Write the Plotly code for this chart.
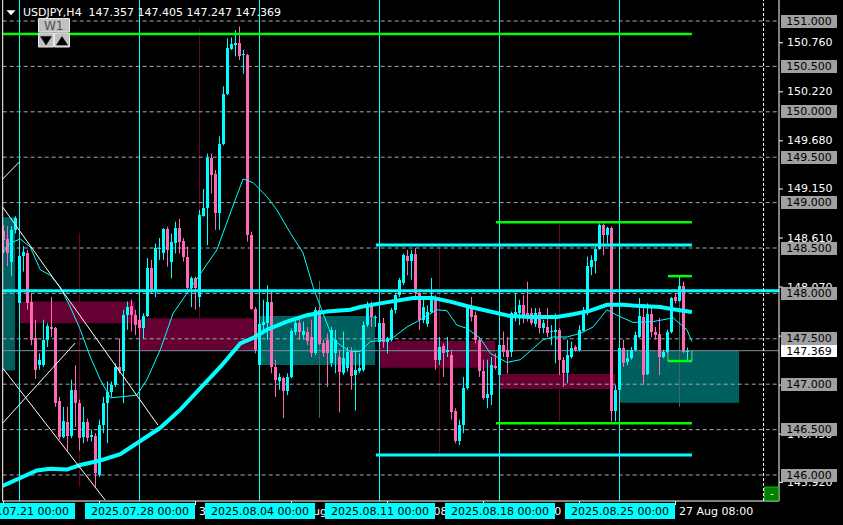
import plotly.graph_objects as go

W, H = 843, 525

# ---------------- data ----------------
bar_index = list(range(172))
open_ = [148.69, 148.60, 148.35, 148.70, 147.89, 148.41, 148.45, 147.91, 147.51, 147.21,
         147.21, 147.49, 147.63, 147.62, 146.81, 146.42, 146.58, 146.43, 146.94, 146.79,
         146.42, 146.58, 146.42, 146.43, 146.00, 146.55, 146.79, 146.91, 146.99, 147.19,
         147.14, 147.76, 147.86, 147.76, 147.71, 147.615, 147.75, 148.28, 148.04, 148.485,
         148.44, 148.705, 148.35, 148.56, 148.72, 148.58, 148.40, 148.06, 148.17, 147.96,
         148.85, 148.945, 149.49, 149.315, 148.89, 149.645, 150.20, 150.69, 150.735, 150.76,
         150.625, 150.625, 148.64, 147.825, 147.21, 147.65, 147.67, 147.90, 147.19, 147.03,
         147.065, 146.92, 147.08, 147.58, 147.67, 147.54, 147.58, 147.52, 147.34, 147.82,
         147.45, 147.49, 147.23, 147.34, 147.30, 147.12, 147.175, 147.36, 147.10, 147.14,
         147.16, 147.65, 147.87, 147.73, 147.47, 147.67, 147.47, 147.49, 147.82, 147.98,
         148.11, 148.41, 148.36, 148.43, 148.00, 147.71, 147.66, 147.80, 147.95, 147.27,
         147.42, 147.35, 147.32, 146.70, 146.38, 146.55, 146.955, 147.85, 147.76, 147.49,
         147.14, 146.85, 146.88, 147.205, 147.10, 147.43, 147.38, 147.35, 147.74, 147.78,
         147.87, 147.78, 147.78, 147.66, 147.80, 147.62, 147.63, 147.57, 147.58, 147.60,
         147.27, 147.12, 147.30, 147.41, 147.38, 147.59, 147.78, 148.295, 148.36, 148.49,
         148.75, 148.64, 148.72, 146.70, 146.94, 147.395, 147.24, 147.285, 147.38, 147.52,
         147.74, 147.11, 147.77, 147.58, 147.55, 147.30, 147.36, 147.58, 147.96, 147.92,
         148.08, 147.357]
high_ = [148.75, 148.74, 148.74, 148.85, 148.44, 148.52, 148.48, 148.00, 147.71, 147.34,
         147.71, 147.67, 147.96, 147.63, 146.86, 146.75, 146.75, 147.05, 147.21, 146.83,
         146.75, 146.62, 146.50, 146.46, 146.61, 146.86, 147.03, 147.03, 147.23, 147.505,
         147.82, 147.91, 147.93, 147.82, 147.74, 147.78, 148.39, 148.37, 148.55, 148.61,
         148.72, 148.735, 148.66, 148.79, 148.82, 148.61, 148.515, 148.185, 148.185, 148.92,
         149.15, 149.54, 149.54, 149.36, 149.73, 150.28, 150.81, 150.82, 150.90, 150.94,
         150.68, 150.64, 148.68, 147.85, 147.78, 147.93, 148.09, 148.02, 147.27, 147.12,
         147.08, 147.12, 147.615, 147.725, 147.725, 147.69, 147.63, 147.71, 147.85, 147.85,
         147.49, 147.56, 147.63, 147.60, 147.38, 147.58, 147.41, 147.41, 147.38, 147.34,
         147.69, 147.91, 147.91, 147.76, 147.69, 147.73, 147.52, 147.84, 148.00, 148.17,
         148.44, 148.48, 148.48, 148.50, 148.04, 147.93, 147.87, 148.17, 147.98, 147.52,
         147.45, 147.52, 147.38, 146.735, 146.61, 147.08, 147.87, 147.96, 147.80, 147.52,
         147.27, 147.27, 147.30, 147.34, 147.45, 147.58, 147.52, 147.80, 148.00, 147.93,
         147.98, 148.13, 147.84, 147.84, 147.84, 147.71, 147.84, 147.65, 147.78, 147.62,
         147.30, 147.49, 147.47, 147.43, 147.65, 147.85, 148.405, 148.42, 148.515, 148.77,
         148.77, 148.735, 148.735, 146.99, 147.41, 147.49, 147.38, 147.41, 147.58, 147.95,
         147.84, 147.89, 147.85, 147.63, 147.73, 147.38, 147.60, 147.96, 148.00, 148.19,
         148.13, 147.405]
low_ = [148.44, 148.30, 148.19, 148.66, 147.82, 148.24, 147.82, 147.43, 147.06, 147.16,
        147.19, 147.41, 147.52, 146.75, 146.39, 146.405, 146.27, 146.405, 146.53, 146.27,
        146.35, 146.37, 146.37, 145.87, 145.98, 146.46, 146.35, 146.86, 146.97, 147.12,
        146.79, 147.60, 147.58, 147.54, 147.505, 147.505, 147.74, 148.00, 147.96, 148.37,
        148.37, 148.295, 148.165, 148.44, 148.44, 148.35, 148.04, 147.85, 147.82, 147.85,
        148.845, 148.53, 149.10, 148.70, 148.70, 149.63, 150.185, 150.68, 150.61, 150.57,
        150.42, 148.57, 147.82, 147.34, 147.19, 147.56, 147.49, 147.12, 146.86, 146.94,
        146.625, 146.88, 147.065, 147.54, 147.49, 147.49, 147.43, 147.30, 147.32, 147.43,
        147.30, 146.97, 147.19, 147.12, 146.69, 147.10, 147.14, 146.94, 146.71, 147.12,
        147.14, 147.63, 147.63, 147.63, 147.45, 147.40, 147.34, 147.47, 147.78, 147.96,
        148.09, 148.20, 148.15, 147.93, 147.60, 147.67, 147.63, 147.78, 147.16, 147.21,
        147.08, 147.30, 146.61, 146.35, 146.33, 146.46, 146.94, 147.69, 147.45, 147.08,
        146.83, 146.735, 146.77, 147.16, 147.08, 147.30, 147.12, 147.30, 147.69, 147.65,
        147.67, 147.69, 147.65, 147.63, 147.56, 147.56, 147.52, 147.43, 147.23, 147.10,
        146.97, 147.01, 147.285, 147.36, 147.36, 147.58, 147.76, 148.20, 148.22, 148.48,
        148.42, 148.55, 146.59, 146.59, 146.93, 147.19, 147.21, 147.27, 147.36, 147.51,
        146.99, 147.10, 147.52, 147.49, 147.10, 147.285, 147.34, 147.56, 147.89, 147.91,
        147.34, 147.247]
close_ = [148.59, 148.44, 148.70, 148.83, 148.41, 148.46, 147.89, 147.49, 147.16, 147.27,
          147.49, 147.64, 147.605, 146.79, 146.42, 146.59, 146.43, 146.94, 146.79, 146.41,
          146.58, 146.405, 146.44, 146.02, 146.55, 146.79, 146.91, 146.99, 147.19, 147.14,
          147.76, 147.85, 147.76, 147.65, 147.615, 147.75, 148.28, 148.04, 148.50, 148.50,
          148.705, 148.48, 148.57, 148.72, 148.57, 148.405, 148.06, 148.17, 148.06, 148.86,
          148.945, 149.49, 149.30, 148.89, 149.645, 150.20, 150.70, 150.75, 150.76, 150.615,
          150.64, 148.64, 147.825, 147.38, 147.66, 147.69, 147.91, 147.19, 147.05, 147.08,
          146.92, 147.08, 147.59, 147.67, 147.58, 147.59, 147.48, 147.34, 147.82, 147.44,
          147.34, 147.34, 147.60, 147.49, 147.13, 147.285, 147.36, 147.09, 147.16, 147.175,
          147.65, 147.87, 147.74, 147.74, 147.67, 147.47, 147.51, 147.82, 147.98, 148.15,
          148.42, 148.36, 148.43, 148.00, 147.71, 147.85, 147.80, 147.95, 147.27, 147.41,
          147.34, 147.38, 146.69, 146.38, 146.55, 146.955, 147.85, 147.74, 147.49, 147.14,
          146.85, 146.89, 147.21, 147.175, 147.43, 147.36, 147.30, 147.78, 147.79, 147.87,
          147.76, 147.76, 147.67, 147.78, 147.62, 147.67, 147.56, 147.59, 147.60, 147.27,
          147.12, 147.32, 147.40, 147.38, 147.60, 147.79, 148.30, 148.37, 148.49, 148.75,
          148.64, 148.72, 146.70, 146.94, 147.395, 147.23, 147.285, 147.38, 147.54, 147.75,
          147.10, 147.77, 147.57, 147.54, 147.30, 147.35, 147.58, 147.95, 147.92, 148.08,
          147.36, 147.369]

# slow (thick) moving average, read points
ma_slow_bar = [-0.2, 4.2, 8.35, 11.7, 15.85, 19.2, 24.2, 29.2, 34.2, 39.2, 44.2, 49.2, 54.2,
               59.2, 62.4, 65.85, 70.85, 75.85, 80.85, 86.7, 89.2, 94.2, 99.2, 102.4, 107.4,
               111.7, 116.7, 121.7, 126.7, 131.7, 138.35, 142.4, 146.7, 150.85, 154.9, 159.2,
               164.2, 167.4, 172.1]
ma_slow_val = [145.88, 145.97, 146.05, 146.07, 146.06, 146.11, 146.16, 146.23, 146.37, 146.52,
               146.72, 146.96, 147.19, 147.45, 147.51, 147.60, 147.69, 147.76, 147.80, 147.82,
               147.85, 147.89, 147.93, 147.95, 147.95, 147.91, 147.85, 147.80, 147.75, 147.74,
               147.74, 147.77, 147.81, 147.875, 147.875, 147.86, 147.85, 147.825, 147.795]
# fast (thin) moving average, read points
ma_fast_bar = [-0.2, 1.7, 4.2, 6.7, 9.2, 11.7, 14.2, 16.7, 19.2, 21.7, 24.2, 26.7, 29.2, 33.35,
               35.85, 39.2, 42.4, 45.85, 49.2, 53.35, 56.7, 59.9, 62.4, 65.85, 68.35, 71.7,
               74.9, 77.4, 79.9, 82.4, 84.9, 86.7, 89.2, 91.7, 96.7, 100.85, 104.2, 108.35,
               110.85, 113.35, 115.85, 119.2, 121.7, 125.85, 129.2, 132.4, 134.9, 137.4,
               140.85, 144.2, 147.4, 150.85, 153.35, 157.4, 162.4, 167.4, 170.85, 172.1]
ma_fast_val = [148.445, 148.555, 148.60, 148.51, 148.26, 148.20, 148.07, 147.85, 147.60, 147.30,
               147.05, 146.85, 146.86, 146.88, 147.05, 147.38, 147.78, 148.00, 148.225, 148.48,
               148.885, 149.26, 149.22, 149.065, 148.92, 148.665, 148.445, 148.07, 147.78,
               147.49, 147.41, 147.36, 147.36, 147.47, 147.49, 147.63, 147.71, 147.82, 147.81,
               147.65, 147.615, 147.505, 147.34, 147.24, 147.27, 147.395, 147.49, 147.52,
               147.52, 147.56, 147.63, 147.82, 147.76, 147.68, 147.69, 147.73, 147.60, 147.47]

# weekly separators and labels
week_start_bar = [4, 34, 64, 94, 124, 154]
week_label = ["2025.07.21 00:00", "2025.07.28 00:00", "2025.08.04 00:00",
              "2025.08.11 00:00", "2025.08.18 00:00", "2025.08.25 00:00"]
time_tick_bar = [0, 24, 48, 72, 96, 120, 144, 168]
time_tick_label = ["18 Jul 08:00", "24 Jul 08:00", "30 Jul 08:00", "5 Aug 08:00",
                   "11 Aug 08:00", "15 Aug 08:00", "21 Aug 08:00", "27 Aug 08:00"]

# weekly high-low range markers (mid week)
range_bar = [19, 49, 79, 109, 139, 169]
range_high = [148.665, 150.92, 148.14, 148.51, 148.775, 148.18]
range_low = [145.87, 147.50, 146.63, 146.24, 146.59, 146.75]
range_bull = [False, False, True, False, False, True]

# zones (rectangles)
zone_from = [-0.2, 3.95, 33.95, 63.95, 93.95, 123.95, 153.95]
zone_to = [2.9, 32.9, 62.4, 92.9, 122.9, 152.9, 183.9]
zone_top = [148.84, 147.91, 147.726, 147.751, 147.475, 147.112, 147.369]
zone_bottom = [147.15, 147.67, 147.377, 147.211, 147.18, 146.947, 146.796]
zone_bull = [True, False, False, True, False, False, True]

# horizontal levels
level_price = [150.856, 148.03, 148.533, 146.22, 148.783, 146.569, 148.19, 147.255]
level_from = [-0.2, -0.2, 93.1, 93.1, 123.1, 123.1, 166.1, 166.1]
level_to = [172.1, 194.0, 172.1, 172.1, 172.1, 172.1, 172.1, 172.1]
level_kind = ["green", "cyan", "cyan", "cyan", "green", "green", "green", "green"]

# white trend lines (bar, price) pairs
trend_x0 = [-0.2, -0.2, -0.2, -0.2]
trend_y0 = [149.26, 148.951, 147.178, 146.572]
trend_x1 = [3.95, 38.6, 25.4, 17.9]
trend_y1 = [149.447, 146.55, 145.725, 147.453]

grid_levels = [151.0, 150.5, 150.0, 149.5, 149.0, 148.5, 148.0, 147.5, 147.0, 146.5, 146.0]
native_price_labels = [150.760, 150.220, 149.680, 149.150, 148.610, 148.070, 147.530,
                       146.990, 146.450, 145.920]
current_price = 147.369
header = "USDJPY,H4\u00a0\u00a0147.357 147.405 147.247 147.369"

# ---------------- layout geometry ----------------
X_LEFT_PX, X_RIGHT_PX = 2.7, 779.0
Y_BOTTOM_PX = 501.0
X_MIN = -0.2
X_MAX = X_MIN + (X_RIGHT_PX - X_LEFT_PX) / 4.0
Y_MIN, Y_MAX = 145.7137, 151.2313

CYAN = "#00ffff"
PINK = "#ff69b4"
GREEN = "#00ff00"
TEAL_ZONE = "#005f5f"
MAROON_ZONE = "#660033"
FONT = "DejaVu Sans"


def pxp(x):  # pixel -> paper x
    return x / W


def pyp(y):  # pixel -> paper y
    return 1 - y / H


def paper_y_of_price(p):
    d0 = 1 - Y_BOTTOM_PX / H
    return d0 + (p - Y_MIN) / (Y_MAX - Y_MIN) * (1 - d0)


def paper_x_of_bar(k):
    d0, d1 = X_LEFT_PX / W, X_RIGHT_PX / W
    return d0 + (k - X_MIN) / (X_MAX - X_MIN) * (d1 - d0)


fig = go.Figure()

# ---------------- candles ----------------
min_body = (Y_MAX - Y_MIN) / Y_BOTTOM_PX
bull = [c >= o for o, c in zip(open_, close_)]
base = [min(o, c) for o, c in zip(open_, close_)]
height = [max(abs(c - o), min_body) for o, c in zip(open_, close_)]
colors = [CYAN if b else PINK for b in bull]

for want, col in ((True, CYAN), (False, PINK)):
    wx, wy = [], []
    for k, b, lo, hi in zip(bar_index, bull, low_, high_):
        if b == want:
            wx += [k, k, None]
            wy += [lo, hi, None]
    fig.add_trace(go.Scatter(x=wx, y=wy, mode="lines", line=dict(color=col, width=1),
                             hoverinfo="skip", showlegend=False))

fig.add_trace(go.Bar(x=bar_index, y=height, base=base, width=0.78,
                     marker=dict(color=colors, line=dict(width=0)),
                     hoverinfo="skip", showlegend=False))

fig.add_trace(go.Scatter(x=ma_fast_bar, y=ma_fast_val, mode="lines",
                         line=dict(color=CYAN, width=1), hoverinfo="skip", showlegend=False))
fig.add_trace(go.Scatter(x=ma_slow_bar, y=ma_slow_val, mode="lines",
                         line=dict(color=CYAN, width=4), hoverinfo="skip", showlegend=False))

shapes = []
# zones
for x0, x1, t, b, bl in zip(zone_from, zone_to, zone_top, zone_bottom, zone_bull):
    shapes.append(dict(type="rect", xref="x", yref="y", x0=x0, x1=x1, y0=b, y1=t,
                       fillcolor=TEAL_ZONE if bl else MAROON_ZONE, line=dict(width=0),
                       layer="below"))
# week separators
for k in week_start_bar:
    shapes.append(dict(type="line", xref="x", yref="y", x0=k, x1=k, y0=Y_MIN, y1=Y_MAX,
                       line=dict(color=CYAN, width=1), layer="below"))
# weekly range markers
for k, hi, lo, bl in zip(range_bar, range_high, range_low, range_bull):
    shapes.append(dict(type="line", xref="x", yref="y", x0=k, x1=k, y0=lo, y1=hi,
                       line=dict(color="#3a6a6a" if bl else "#6b0035", width=1),
                       layer="below"))
# dashed grid
for p in grid_levels:
    shapes.append(dict(type="line", xref="x", yref="y", x0=X_MIN, x1=X_MAX, y0=p, y1=p,
                       line=dict(color="#a8a8a8", width=1, dash="4px,3px"), layer="below"))
# current price line
shapes.append(dict(type="line", xref="x", yref="y", x0=X_MIN, x1=X_MAX, y0=current_price,
                   y1=current_price, line=dict(color="#8090a0", width=1), layer="below"))
# levels
for p, x0, x1, kind in zip(level_price, level_from, level_to, level_kind):
    shapes.append(dict(type="line", xref="x", yref="y", x0=x0, x1=x1, y0=p, y1=p,
                       line=dict(color=CYAN if kind == "cyan" else GREEN,
                                 width=3 if kind == "cyan" else 2.5), layer="above"))
# bracket verticals
for x in (level_from[-1], level_to[-1]):
    shapes.append(dict(type="line", xref="x", yref="y", x0=x, x1=x, y0=level_price[-1],
                       y1=current_price, line=dict(color="#66cdaa", width=1), layer="above"))
# white trend lines
for x0, y0, x1, y1 in zip(trend_x0, trend_y0, trend_x1, trend_y1):
    shapes.append(dict(type="line", xref="x", yref="y", x0=x0, x1=x1, y0=y0, y1=y1,
                       line=dict(color="#ffffff", width=1), layer="above"))

# frame
shapes.append(dict(type="line", xref="paper", yref="paper", x0=pxp(X_LEFT_PX), x1=pxp(X_LEFT_PX),
                   y0=pyp(Y_BOTTOM_PX), y1=1, line=dict(color="white", width=1)))
shapes.append(dict(type="line", xref="paper", yref="paper", x0=pxp(X_RIGHT_PX), x1=pxp(X_RIGHT_PX),
                   y0=pyp(Y_BOTTOM_PX), y1=1, line=dict(color="white", width=1)))
shapes.append(dict(type="line", xref="paper", yref="paper", x0=pxp(X_LEFT_PX), x1=pxp(X_RIGHT_PX),
                   y0=pyp(Y_BOTTOM_PX), y1=pyp(Y_BOTTOM_PX), line=dict(color="white", width=1)))
shapes.append(dict(type="line", xref="paper", yref="paper", x0=pxp(763.5), x1=pxp(763.5),
                   y0=pyp(Y_BOTTOM_PX), y1=1, line=dict(color="white", width=1, dash="3px,2px")))
# axis ticks
for k in time_tick_bar:
    xp = paper_x_of_bar(k)
    shapes.append(dict(type="line", xref="paper", yref="paper", x0=xp, x1=xp,
                       y0=pyp(Y_BOTTOM_PX), y1=pyp(Y_BOTTOM_PX + 4), line=dict(color="white", width=1)))
for p in native_price_labels:
    yp = paper_y_of_price(p)
    shapes.append(dict(type="line", xref="paper", yref="paper", x0=pxp(779), x1=pxp(783),
                       y0=yp, y1=yp, line=dict(color="white", width=1)))

# UI buttons
def rect_px(x0, y0, x1, y1, fill, line="#e8e8e8"):
    return dict(type="rect", xref="paper", yref="paper", x0=pxp(x0), x1=pxp(x1),
                y0=pyp(y1), y1=pyp(y0), fillcolor=fill, line=dict(color=line, width=1),
                layer="above")


def path_px(pts, fill):
    d = "M " + " L ".join(f"{pxp(x)},{pyp(y)}" for x, y in pts) + " Z"
    return dict(type="path", xref="paper", yref="paper", path=d, fillcolor=fill,
                line=dict(color=fill, width=0.5), layer="above")


shapes.append(rect_px(38.5, 18.5, 69.5, 32, "#c0c0c0"))
shapes.append(rect_px(38.5, 33, 53.5, 47, "#c0c0c0"))
shapes.append(rect_px(54.5, 33, 69.5, 47, "#c0c0c0"))
shapes.append(path_px([(40.5, 36.5), (51.5, 36.5), (46, 45)], "#000000"))
shapes.append(path_px([(56.5, 45), (67.5, 45), (62, 36.5)], "#000000"))
shapes.append(path_px([(7, 10.5), (15, 10.5), (11, 15)], "#ffffff"))
shapes.append(rect_px(764.5, 487, 778.5, 500.5, "#008000", line="#20b020"))

annotations = []
annotations.append(dict(xref="paper", yref="paper", x=pxp(21), y=pyp(12.5), xanchor="left",
                        yanchor="middle", text=header, showarrow=False,
                        font=dict(family=FONT, size=11, color="white")))
annotations.append(dict(xref="paper", yref="paper", x=pxp(54), y=pyp(25.5), xanchor="center",
                        yanchor="middle", text="W1", showarrow=False,
                        font=dict(family=FONT, size=12, color="#505050")))
annotations.append(dict(xref="paper", yref="paper", x=pxp(771.5), y=pyp(493.5), xanchor="center",
                        yanchor="middle", text="-", showarrow=False,
                        font=dict(family=FONT, size=10, color="white")))

# native time labels then weekly boxes
for k, t in zip(time_tick_bar, time_tick_label):
    annotations.append(dict(xref="paper", yref="paper", x=paper_x_of_bar(k) + 1 / W, y=pyp(511),
                            xanchor="left", yanchor="middle", text=t, showarrow=False,
                            font=dict(family=FONT, size=11, color="white")))
for k, t in zip(week_start_bar, week_label):
    annotations.append(dict(xref="x", yref="paper", x=k, y=pyp(511), xanchor="center",
                            yanchor="middle", text=t, showarrow=False, bgcolor=CYAN,
                            width=110, height=16, borderpad=0, borderwidth=0,
                            font=dict(family=FONT, size=11, color="black")))

# right axis labels
for p in native_price_labels:
    annotations.append(dict(xref="paper", yref="y", x=pxp(785), y=p, xanchor="left",
                            yanchor="middle", text=f"{p:.3f}", showarrow=False,
                            font=dict(family=FONT, size=11, color="white")))
for p in grid_levels:
    annotations.append(dict(xref="paper", yref="y", x=pxp(781), y=p, xanchor="left",
                            yanchor="middle", text=f"{p:.3f}", showarrow=False,
                            bgcolor="#a0a0a0", width=56, height=13, borderpad=0, borderwidth=0,
                            font=dict(family=FONT, size=11, color="black")))
annotations.append(dict(xref="paper", yref="y", x=pxp(781), y=current_price, xanchor="left",
                        yanchor="middle", text=f"{current_price:.3f}", showarrow=False,
                        bgcolor="#ffffff", width=56, height=12, borderpad=0, borderwidth=0,
                        font=dict(family=FONT, size=11, color="black")))

fig.update_layout(
    width=W, height=H,
    margin=dict(l=0, r=0, t=0, b=0, pad=0),
    paper_bgcolor="black", plot_bgcolor="black",
    showlegend=False,
    bargap=0,
    shapes=shapes,
    annotations=annotations,
    xaxis=dict(domain=[X_LEFT_PX / W, X_RIGHT_PX / W], range=[X_MIN, X_MAX], visible=False,
               showgrid=False, zeroline=False, fixedrange=True),
    yaxis=dict(domain=[1 - Y_BOTTOM_PX / H, 1], range=[Y_MIN, Y_MAX], visible=False,
               showgrid=False, zeroline=False, fixedrange=True),
)

fig.write_html(
    "out.html",
    config={"displayModeBar": False, "staticPlot": True},
    post_script="document.body.style.margin='0';document.body.style.overflow='hidden';"
                "document.body.style.background='black';",
)
